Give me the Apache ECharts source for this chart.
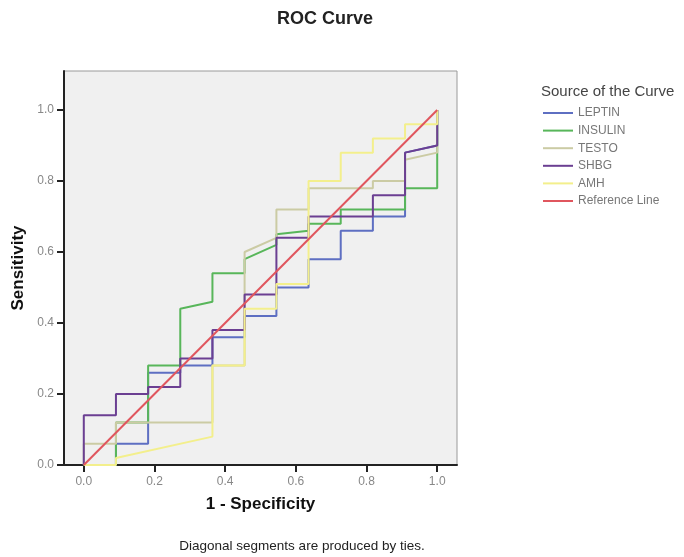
<!DOCTYPE html>
<html>
<head>
<meta charset="utf-8">
<script src="https://cdn.jsdelivr.net/npm/echarts@6/dist/echarts.min.js"></script>
<style>
  html, body { margin: 0; padding: 0; background: #fff; }
  #chart { width: 684px; height: 557px; }
</style>
</head>
<body>
<div id="chart"></div>
<script>
// ROC points [1 - specificity, sensitivity]
var leptinPts = [[0,0],[0.091,0],[0.091,0.06],[0.182,0.06],[0.182,0.26],[0.273,0.26],[0.273,0.28],[0.364,0.28],[0.364,0.36],[0.455,0.36],[0.455,0.42],[0.545,0.42],[0.545,0.50],[0.636,0.50],[0.636,0.58],[0.727,0.58],[0.727,0.66],[0.818,0.66],[0.818,0.70],[0.909,0.70],[0.909,0.88],[1,0.90],[1,1]];
var insulinPts = [[0,0],[0.091,0],[0.091,0.12],[0.182,0.12],[0.182,0.28],[0.273,0.28],[0.273,0.44],[0.364,0.46],[0.364,0.54],[0.455,0.54],[0.455,0.58],[0.545,0.62],[0.545,0.65],[0.636,0.66],[0.636,0.68],[0.727,0.68],[0.727,0.72],[0.909,0.72],[0.909,0.78],[1,0.78],[1,0.86],[1,1]];
var testoPts = [[0,0],[0,0.06],[0.091,0.06],[0.091,0.12],[0.364,0.12],[0.364,0.28],[0.455,0.28],[0.455,0.60],[0.545,0.64],[0.545,0.72],[0.636,0.72],[0.636,0.78],[0.818,0.78],[0.818,0.80],[0.909,0.80],[0.909,0.86],[1,0.88],[1,1]];
var shbgPts = [[0,0],[0,0.14],[0.091,0.14],[0.091,0.20],[0.182,0.20],[0.182,0.22],[0.273,0.22],[0.273,0.30],[0.364,0.30],[0.364,0.38],[0.455,0.38],[0.455,0.48],[0.545,0.48],[0.545,0.64],[0.636,0.64],[0.636,0.70],[0.818,0.70],[0.818,0.76],[0.909,0.76],[0.909,0.88],[1,0.90],[1,0.96],[1,1]];
var amhPts = [[0,0],[0.091,0],[0.091,0.02],[0.364,0.08],[0.364,0.28],[0.455,0.28],[0.455,0.44],[0.545,0.44],[0.545,0.51],[0.636,0.51],[0.636,0.80],[0.727,0.80],[0.727,0.88],[0.818,0.88],[0.818,0.92],[0.909,0.92],[0.909,0.96],[1,0.96],[1,1]];
var refPts = [[0,0],[1,1]];

var curveNames = ['LEPTIN', 'INSULIN', 'TESTO', 'SHBG', 'AMH', 'Reference Line'];
var curveColors = ['#5e6fc2', '#58b65a', '#cbcba4', '#6b3f92', '#f3ef8c', '#e0565e'];
var tickVals = [0, 0.2, 0.4, 0.6, 0.8, 1.0];

var chart = echarts.init(document.getElementById('chart'));

var allPts = [leptinPts, insulinPts, testoPts, shbgPts, amhPts, refPts];
var series = [];
for (var i = 0; i < allPts.length; i++) {
    series.push({
        name: curveNames[i],
        type: 'line',
        data: allPts[i],
        symbol: 'none',
        silent: true,
        lineStyle: { color: curveColors[i], width: 2 },
        itemStyle: { color: curveColors[i] }
    });
}

var opt = {
    backgroundColor: '#fff',
    animation: false,
    textStyle: { fontFamily: 'Liberation Sans, Arial, sans-serif' },
    title: [
        {
            text: 'ROC Curve', left: 320, top: 5, textAlign: 'center',
            textStyle: { fontSize: 18, fontWeight: 'bold', color: '#222' }
        },
        {
            text: 'Source of the Curve', left: 536, top: 79,
            textStyle: { fontSize: 15, fontWeight: 'normal', color: '#444' }
        },
        {
            text: 'Diagonal segments are produced by ties.', left: 297, top: 534, textAlign: 'center',
            textStyle: { fontSize: 13.5, fontWeight: 'normal', color: '#222' }
        }
    ],
    legend: {
        data: curveNames,
        orient: 'vertical',
        left: 538,
        top: 102,
        itemWidth: 30,
        itemHeight: 2,
        itemGap: 5.6,
        icon: 'rect',
        selectedMode: false,
        textStyle: { fontSize: 12, color: '#777' }
    },
    grid: {
        left: 64, top: 71, right: 227, bottom: 92,
        show: true, backgroundColor: '#f0f0f0', borderColor: '#9a9a9a', borderWidth: 1
    },
    xAxis: {
        type: 'value', min: -0.056, max: 1.056,
        name: '1 - Specificity', nameLocation: 'middle', nameGap: 31,
        nameTextStyle: { fontSize: 17, fontWeight: 'bold', color: '#111' },
        axisLine: { onZero: false, lineStyle: { color: '#222', width: 2 } },
        axisTick: { customValues: tickVals, length: 7, lineStyle: { color: '#222', width: 2 } },
        axisLabel: {
            customValues: tickVals, margin: 11, fontSize: 12, color: '#888',
            formatter: function (v) { return v.toFixed(1); }
        },
        splitLine: { show: false }
    },
    yAxis: {
        type: 'value', min: 0, max: 1.11,
        name: 'Sensitivity', nameLocation: 'middle', nameGap: 36,
        nameTextStyle: { fontSize: 17, fontWeight: 'bold', color: '#111' },
        axisLine: { onZero: false, lineStyle: { color: '#222', width: 2 } },
        axisTick: { customValues: tickVals, length: 7, lineStyle: { color: '#222', width: 2 } },
        axisLabel: {
            customValues: tickVals, margin: 10, fontSize: 12, color: '#888',
            formatter: function (v) { return v.toFixed(1); }
        },
        splitLine: { show: false }
    },
    series: series
};
chart.setOption(opt);
</script>
</body>
</html>
